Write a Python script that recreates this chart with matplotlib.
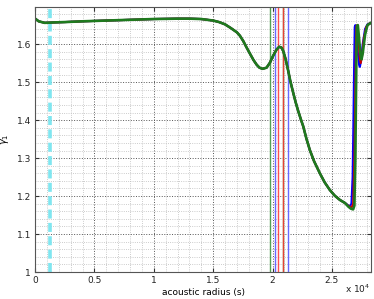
import matplotlib
matplotlib.use('Agg')
import matplotlib.pyplot as plt
from matplotlib.ticker import MultipleLocator, FuncFormatter

plt.rcParams['font.family'] = ['DejaVu Sans']

# gamma_1 profile vs acoustic radius, shared part of the three models
x_common = [0, 300, 800, 1500, 2500, 4000, 6000, 8000, 10000, 12000, 13000, 14000,
            15000, 15500, 16000, 16500, 17000, 17256, 17537, 17800, 18098, 18400, 18659,
            18900, 19164, 19500, 19781, 20000, 20202, 20350, 20564, 20750, 20900, 21100,
            21322, 21500, 21743, 21950, 22164, 22400, 22585, 22850, 23148, 23500, 23990,
            24400, 24832, 25250, 25673, 26100]
y_common = [1.667, 1.660, 1.656, 1.657, 1.658, 1.660, 1.662, 1.664, 1.666, 1.667, 1.667, 1.666,
            1.662, 1.658, 1.652, 1.642, 1.631, 1.622, 1.608, 1.592, 1.575, 1.558, 1.546,
            1.538, 1.535, 1.538, 1.551, 1.566, 1.578, 1.586, 1.593, 1.591, 1.582, 1.561,
            1.530, 1.503, 1.472, 1.447, 1.424, 1.401, 1.384, 1.352, 1.321, 1.292, 1.260,
            1.236, 1.216, 1.201, 1.190, 1.182]

# surface tails, differ per model
x_blue = [26400, 26515, 26650, 26750, 26820, 26880, 26930, 26980, 27050, 27150, 27300,
          27360, 27450, 27600, 27800, 28000, 28300]
y_blue = [1.175, 1.173, 1.180, 1.250, 1.400, 1.550, 1.645, 1.650, 1.635, 1.590, 1.545,
          1.540, 1.555, 1.600, 1.640, 1.652, 1.656]
x_red = [26400, 26650, 26800, 26900, 26970, 27030, 27080, 27130, 27250, 27350, 27430,
         27530, 27700, 27900, 28100, 28300]
y_red = [1.174, 1.169, 1.180, 1.300, 1.450, 1.600, 1.648, 1.650, 1.610, 1.565, 1.550,
         1.565, 1.615, 1.645, 1.653, 1.656]
x_green = [26400, 26600, 26793, 26900, 26980, 27030, 27080, 27120, 27190, 27280, 27400,
           27500, 27600, 27800, 28000, 28300]
y_green = [1.172, 1.167, 1.165, 1.175, 1.300, 1.450, 1.600, 1.648, 1.650, 1.620, 1.575,
           1.560, 1.575, 1.625, 1.650, 1.656]

# vertical markers
vlines_blue = [20170, 21300]
vlines_red = [20450, 20870]
vlines_green = [19750, 20870]
x_cyan = 1260

fig = plt.figure(figsize=(3.74, 2.99), dpi=100)
ax = fig.add_axes([0.094, 0.090, 0.898, 0.887])

ax.axvline(x_cyan, color='#7fe6f0', linestyle='--', linewidth=2.6, dashes=(2.5, 1.2))
for v in vlines_green:
    ax.axvline(v, color='#55a055', linewidth=1)
for v in vlines_blue:
    ax.axvline(v, color='#6868ff', linewidth=1)
for v in vlines_red:
    ax.axvline(v, color='#ff3030', linewidth=1, alpha=0.85)

ax.plot(x_common + x_blue, y_common + y_blue, color='#0000ff', linewidth=1.5)
ax.plot(x_common + x_red, y_common + y_red, color='#cc0000', linewidth=1.5)
ax.plot(x_common + x_green, y_common + y_green, color='#1e7a1e', linewidth=1.9)

ax.set_xlim(0, 28300)
ax.set_ylim(1, 1.698)
ax.xaxis.set_major_locator(MultipleLocator(5000))
ax.xaxis.set_minor_locator(MultipleLocator(1000))
ax.yaxis.set_major_locator(MultipleLocator(0.1))
ax.yaxis.set_minor_locator(MultipleLocator(0.02))
ax.xaxis.set_major_formatter(FuncFormatter(lambda v, p: '%g' % (v / 1e4)))
ax.yaxis.set_major_formatter(FuncFormatter(lambda v, p: '%g' % round(v, 2)))

ax.grid(which='major', color='#555555', linestyle=':', linewidth=0.7)
ax.grid(which='minor', color='#bbbbbb', linestyle=':', linewidth=0.6)
ax.tick_params(which='both', direction='in', top=True, right=True, labelsize=6.5,
               colors='#333333', labelcolor='#222222')
ax.tick_params(which='minor', length=0)
ax.tick_params(which='major', length=3, pad=3)
for s in ax.spines.values():
    s.set_color('#555555')

ax.set_xlabel('acoustic radius (s)', fontsize=6.5, labelpad=2)
ax.set_ylabel(r'$\gamma_1$', fontsize=7, labelpad=4)
fig.text(0.99, 0.012, r'x 10$^4$', fontsize=6.5, ha='right', va='bottom', color='#222222')

fig.savefig('out.png', dpi=100)
